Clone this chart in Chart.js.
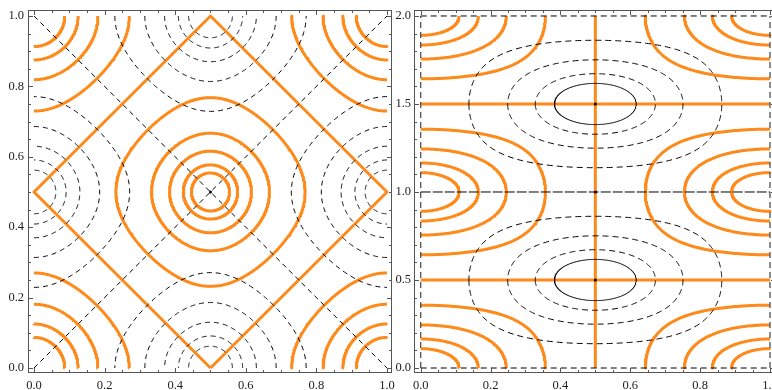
<!DOCTYPE html>
<html>
<head>
<meta charset="utf-8">
<script src="https://cdn.jsdelivr.net/npm/chart.js@4.4.1/dist/chart.umd.min.js"></script>
<style>
  html, body { margin: 0; padding: 0; background: #fff; overflow: hidden; width: 772px; height: 390px; }
  canvas { position: absolute; top: 0; }
  #left { left: 0; }
  #right { left: 390px; }
</style>
</head>
<body>
<canvas id="left" width="400" height="390"></canvas>
<canvas id="right" width="400" height="390"></canvas>
<script>
// tick labels
const leftTicks = [0, 0.2, 0.4, 0.6, 0.8, 1.0];
const rightXTicks = [0, 0.2, 0.4, 0.6, 0.8, 1.0];
const rightYTicks = [0, 0.5, 1.0, 1.5, 2.0];

// contour sizes: distance from the peak/trough to where the
// contour crosses the axis through it (data units)
const leftCenterRings = [0.054, 0.077, 0.116, 0.167, 0.268];
const leftCornerRings = [0.087, 0.125, 0.181, 0.27];
const leftEdgeRings = [0.062, 0.091, 0.130, 0.186, 0.271];
const rightOrangeRings = [0.11, 0.165, 0.245, 0.357];
const rightBlackRings = [0.117, 0.172, 0.251, 0.362];

// where the peaks / troughs sit
const leftCenter = [[0.5, 0.5]];
const leftCorners = [[0, 0], [1, 0], [0, 1], [1, 1]];
const leftEdges = [[0.5, 0], [0, 0.5], [1, 0.5], [0.5, 1]];
const rightOrangeCentres = [[0, 0], [1, 0], [0, 1], [1, 1], [0, 2], [1, 2]];
const rightBlackCentres = [[0.5, 0.5], [0.5, 1.5]];
const rightDots = [[0.5, 0.5], [0.5, 1.0], [0.5, 1.5]];

// zero contours (straight pieces)
const diamondX = [0.5, 1, 0.5, 0, 0.5];
const diamondY = [0, 0.5, 1, 0.5, 0];
const diagX = [0, 1];
const diagUpY = [0, 1];
const diagDownY = [1, 0];
const rightOrangeH = [0.5, 1.5];
const rightOrangeV = [0.5];
const rightBlackH = [0, 1, 2];
const rightBlackV = [0, 1];

// the two fields the panels are contour plots of
const TAU = 2 * Math.PI;
const fLeftOrange = (x, y) => Math.cos(TAU * x) + Math.cos(TAU * y);
const fLeftBlack = (x, y) => Math.cos(TAU * x) - Math.cos(TAU * y);
const fRightOrange = (x, y) => Math.cos(Math.PI * x) * Math.cos(Math.PI * y);
const fRightBlack = (x, y) => Math.sin(Math.PI * x) * Math.sin(Math.PI * y);

const ORANGE = '#fd8a1a';

// follow the level set through the read crossing point, ray by ray round the peak
function trace(F, cx, cy, r, xmax, ymax) {
  let dx = 0, dy = 0;
  if (cx === 0) dx = 1; else if (cx === xmax) dx = -1;
  else if (cy === 0) dy = 1; else if (cy === ymax) dy = -1;
  else dx = 1;
  const L = F(cx + dx * r, cy + dy * r);
  const F0 = F(cx, cy) - L;
  const start = Math.atan2(-dy, -dx);
  const pts = [];
  const N = 360;
  for (let k = 0; k <= N; k++) {
    const t = start + k * TAU / N;
    const c = Math.cos(t), s = Math.sin(t);
    let a = 0, b = 0, found = false;
    for (let p = 0.002; p < 1; p += 0.002) {
      if ((F(cx + c * p, cy + s * p) - L) * F0 <= 0) { a = p - 0.002; b = p; found = true; break; }
    }
    if (!found) continue;
    for (let i = 0; i < 30; i++) {
      const m = (a + b) / 2;
      if ((F(cx + c * m, cy + s * m) - L) * F0 > 0) a = m; else b = m;
    }
    const x = cx + c * b, y = cy + s * b;
    const eps = 1e-9;
    if (x < -eps || x > xmax + eps || y < -eps || y > ymax + eps) continue;
    pts.push({ x: Math.min(Math.max(x, 0), xmax), y: Math.min(Math.max(y, 0), ymax) });
  }
  return pts;
}

function line(pts, color, width, dash) {
  return { data: pts, showLine: true, borderColor: color, borderWidth: width, borderDash: dash || [],
           borderJoinStyle: 'round', borderCapStyle: 'butt',
           pointRadius: 0, fill: false, tension: 0, spanGaps: false };
}
function zip(xs, ys) { return xs.map((x, i) => ({ x: x, y: ys[i] })); }

// frame with inward ticks like the original
const framePlugin = {
  id: 'frame',
  afterDraw(chart, args, o) {
    const { ctx, chartArea: a, scales: { x, y } } = chart;
    ctx.save();
    ctx.strokeStyle = '#555';
    ctx.lineWidth = 1;
    ctx.strokeRect(a.left + 0.5, a.top + 0.5, a.right - a.left - 1, a.bottom - a.top - 1);
    ctx.beginPath();
    const nx = Math.round(o.xMax / o.xMinor), ny = Math.round(o.yMax / o.yMinor);
    for (let i = 0; i <= nx; i++) {
      const v = i * o.xMinor;
      const len = Math.abs(v / o.xMajor - Math.round(v / o.xMajor)) < 1e-6 ? 5 : 3;
      const px = Math.round(x.getPixelForValue(v)) + 0.5;
      ctx.moveTo(px, a.bottom); ctx.lineTo(px, a.bottom - len);
      ctx.moveTo(px, a.top); ctx.lineTo(px, a.top + len);
    }
    for (let i = 0; i <= ny; i++) {
      const v = i * o.yMinor;
      const len = Math.abs(v / o.yMajor - Math.round(v / o.yMajor)) < 1e-6 ? 5 : 3;
      const py = Math.round(y.getPixelForValue(v)) + 0.5;
      ctx.moveTo(a.left, py); ctx.lineTo(a.left + len, py);
      ctx.moveTo(a.right, py); ctx.lineTo(a.right - len, py);
    }
    ctx.stroke();
    ctx.restore();
  }
};

const FONT = { family: "'Liberation Serif', 'Times New Roman', serif", size: 12.5 };

function axis(pos, min, max, ticks, size, pad) {
  return {
    type: 'linear', position: pos, min: min, max: max,
    grid: { display: false, drawTicks: false }, border: { display: false },
    afterBuildTicks: s => { s.ticks = ticks.map(v => ({ value: v })); },
    afterFit: s => {
      if (pos === 'left') s.width = size; else s.height = size;
      s.paddingLeft = s.paddingRight = s.paddingTop = s.paddingBottom = 0;
    },
    ticks: { autoSkip: false, maxRotation: 0, padding: pad, color: '#222', font: FONT,
             callback: v => Number(v).toFixed(1) }
  };
}

// ---- left panel ----
const leftSets = [];
leftSets.push(line(zip(diagX, diagUpY), '#000', 1, [5, 4]));
leftSets.push(line(zip(diagX, diagDownY), '#000', 1, [5, 4]));
leftEdges.forEach(([cx, cy]) => leftEdgeRings.forEach(r =>
  leftSets.push(line(trace(fLeftBlack, cx, cy, r, 1, 1), '#000', 1, [5, 4]))));
leftSets.push({ data: zip([0.5], [0.5]), pointRadius: 1.5, backgroundColor: '#000', borderWidth: 0 });
leftSets.push(line(zip(diamondX, diamondY), ORANGE, 3));
leftCenter.forEach(([cx, cy]) => leftCenterRings.forEach(r =>
  leftSets.push(line(trace(fLeftOrange, cx, cy, r, 1, 1), ORANGE, 3))));
leftCorners.forEach(([cx, cy]) => leftCornerRings.forEach(r =>
  leftSets.push(line(trace(fLeftOrange, cx, cy, r, 1, 1), ORANGE, 3))));

new Chart(document.getElementById('left'), {
  type: 'scatter',
  data: { datasets: leftSets },
  options: {
    responsive: false, animation: false, events: [],
    layout: { padding: { left: 0, top: 10, right: 8, bottom: 0 } },
    plugins: { legend: { display: false }, tooltip: { enabled: false },
               frame: { xMax: 1, xMinor: 0.05, xMajor: 0.2, yMax: 1, yMinor: 0.05, yMajor: 0.2 } },
    scales: {
      x: axis('bottom', -0.017, 1.0142, leftTicks, 17, 5),
      y: axis('left', -0.0142, 1.017, leftTicks, 28, 4)
    }
  },
  plugins: [framePlugin]
});

// ---- right panel ----
const rightSets = [];
rightSets.push({ data: rightDots.map(p => ({ x: p[0], y: p[1] })), pointRadius: 1.5, backgroundColor: '#000', borderWidth: 0 });
rightBlackH.forEach(v => rightSets.push(line(zip([0, 1], [v, v]), '#000', 1, v === 1 ? [10, 2] : [6, 4])));
rightBlackV.forEach(v => rightSets.push(line(zip([v, v], [0, 2]), '#444', 1.2, [6, 4])));
rightBlackCentres.forEach(([cx, cy]) => rightBlackRings.forEach((r, i) =>
  rightSets.push(line(trace(fRightBlack, cx, cy, r, 1, 2), '#000', 1, i === 0 ? [] : [6, 4]))));
rightOrangeH.forEach(v => rightSets.push(line(zip([0, 1], [v, v]), ORANGE, 3)));
rightOrangeV.forEach(v => rightSets.push(line(zip([v, v], [0, 2]), ORANGE, 3)));
rightOrangeCentres.forEach(([cx, cy]) => rightOrangeRings.forEach(r =>
  rightSets.push(line(trace(fRightOrange, cx, cy, r, 1, 2), ORANGE, 3))));

new Chart(document.getElementById('right'), {
  type: 'scatter',
  data: { datasets: rightSets },
  options: {
    responsive: false, animation: false, events: [],
    layout: { padding: { left: 0, top: 10, right: 14, bottom: 0 } },
    plugins: { legend: { display: false }, tooltip: { enabled: false },
               frame: { xMax: 1, xMinor: 0.05, xMajor: 0.2, yMax: 2, yMinor: 0.1, yMajor: 0.5 } },
    scales: {
      x: axis('bottom', -0.0192, 1.0172, rightXTicks, 17, 5),
      y: axis('left', -0.0284, 2.034, rightYTicks, 24, 3)
    }
  },
  plugins: [framePlugin]
});
</script>
</body>
</html>
